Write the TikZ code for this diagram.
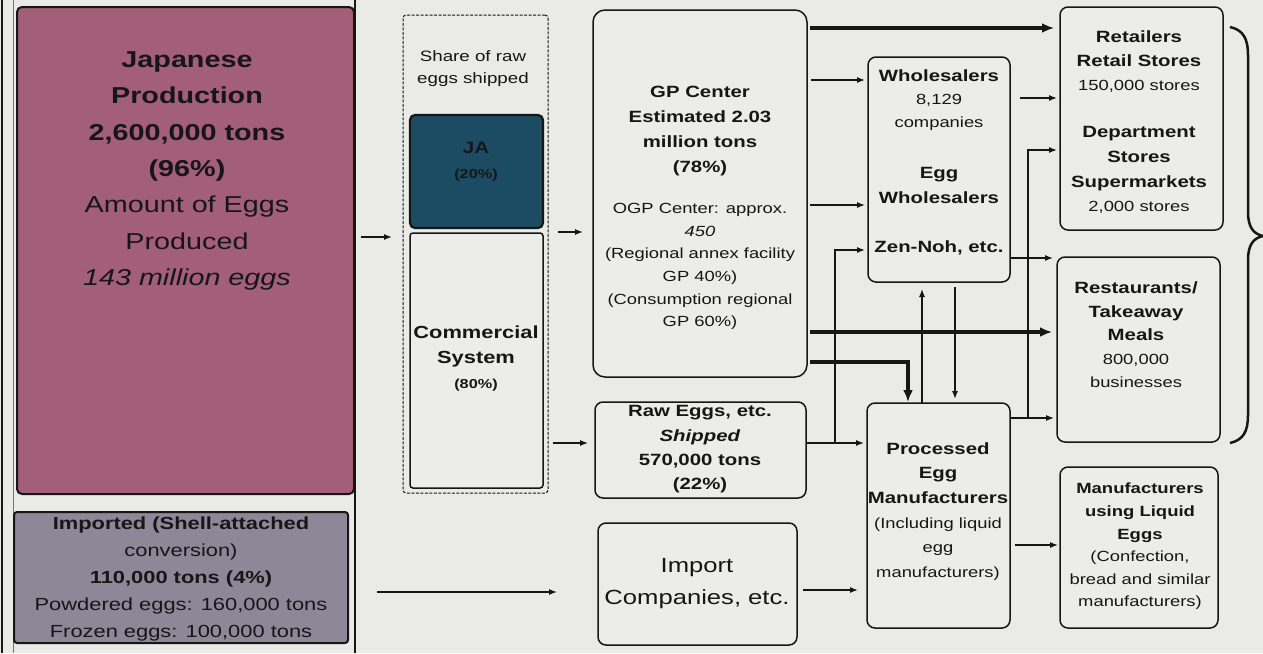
\documentclass[tikz,border=0pt]{standalone}
\usepackage{fontspec}
\setmainfont{Liberation Sans}[FakeStretch=1.25]
\usetikzlibrary{arrows.meta}
\definecolor{bg}{RGB}{234,234,232}
\definecolor{boxc}{RGB}{236,236,234}
\definecolor{pinkc}{RGB}{163,94,120}
\definecolor{grayc}{RGB}{141,135,151}
\definecolor{tealc}{RGB}{28,76,100}
\definecolor{ink}{RGB}{22,22,22}
\newcommand{\drawbox}[6]{\node[#1, minimum width={#4pt-#2pt}, minimum height={#5pt-#3pt}] (#6) at ({(#2+#4)/2},{(#3+#5)/2}) {};}
\newcommand{\bhead}[1]{{\fontsize{16.3}{24}\selectfont\bfseries #1}}
\begin{document}
\begin{tikzpicture}[x=1pt,y=-1pt,
  arr/.style={draw=ink, line width=1.2pt, -{Latex[length=8pt,width=6pt]}},
  tarr/.style={draw=ink, line width=3.2pt, -{Latex[length=12pt,width=10pt]}},
  box/.style={draw=ink, line width=1.5pt, rounded corners=8pt, fill=boxc, inner sep=0pt, outer sep=0pt},
  dashbox/.style={draw=ink, line width=1pt, dash pattern=on 3pt off 1.5pt, rounded corners=3pt, inner sep=0pt, outer sep=0pt},
  txt/.style={align=center, text=ink, inner sep=0pt},
]
\fill[bg] (0,0) rectangle (1263,653);
\useasboundingbox (0,0) rectangle (1263,653);
% table frame lines
\draw[ink, line width=1.2pt] (2,0) -- (2,653);
\draw[ink!60, line width=1pt] (13,0) -- (13,653);
\draw[ink, line width=1.2pt] (355,0) -- (355,653);
% boxes
\drawbox{box, fill=pinkc, rounded corners=5pt, line width=2pt}{17}{7}{354}{494}{pink}
\drawbox{box, fill=grayc, rounded corners=3pt, line width=2pt}{14}{512}{348}{643}{gray}
\drawbox{dashbox}{403}{15}{548}{493}{share}
\drawbox{box, fill=tealc, rounded corners=5pt, line width=2.2pt}{410}{115}{543}{228}{ja}
\drawbox{box, rounded corners=3pt}{410}{233}{543}{488}{comm}
\drawbox{box, rounded corners=12pt}{593}{10}{807}{377}{gp}
\drawbox{box}{595}{402}{806}{498}{raw}
\drawbox{box}{598}{523}{797}{645}{imp}
\drawbox{box}{868}{57}{1010}{282}{whs}
\drawbox{box}{867}{403}{1010}{628}{proc}
\drawbox{box}{1060}{7}{1223}{230}{ret}
\drawbox{box}{1057}{257}{1220}{442}{rest}
\drawbox{box}{1060}{467}{1218}{628}{mfr}
% texts
\node[txt, font=\fontsize{23}{36.3}\selectfont] (tpink) at (187,171) {\textbf{Japanese}\\\textbf{Production}\\\textbf{2,600,000 tons}\\\textbf{(96\%)}\\Amount of Eggs\\Produced\\\textit{143 million eggs}};
\node[txt, font=\fontsize{17.5}{27}\selectfont] (tgray) at (181,578.5) {\textbf{Imported (Shell-attached}\\conversion)\\\textbf{110,000 tons (4\%)}\\Powdered eggs: 160,000 tons\\Frozen eggs: 100,000 tons};
\node[txt, font=\fontsize{15}{22}\selectfont] (tshare) at (473,69) {Share of raw\\eggs shipped};
\node[txt, font=\fontsize{16.5}{25}\selectfont\bfseries] (tja) at (476,162) {JA\\{\fontsize{13}{25}\selectfont (20\%)}};
\node[txt, font=\fontsize{17.5}{25}\selectfont\bfseries] (tcomm) at (476,359) {Commercial\\System\\{\fontsize{13}{25}\selectfont (80\%)}};
\node[txt, font=\fontsize{16.3}{25}\selectfont\bfseries] (tgp1) at (700,130.5) {GP Center\\Estimated 2.03\\million tons\\(78\%)};
\node[txt, font=\fontsize{14.7}{22.6}\selectfont] (tgp2) at (700,266.5) {OGP Center: approx.\\\textit{450}\\(Regional annex facility\\GP 40\%)\\(Consumption regional\\GP 60\%)};
\node[txt, font=\fontsize{16.3}{24.3}\selectfont\bfseries] (traw) at (700,449.5) {Raw Eggs, etc.\\\textit{Shipped}\\570,000 tons\\(22\%)};
\node[txt, font=\fontsize{20.5}{32}\selectfont] (timp) at (697,584) {Import\\Companies, etc.};
\node[txt, font=\fontsize{14.7}{23}\selectfont] (tw1) at (939,100) {\bhead{Wholesalers}\\8,129\\companies};
\node[txt, font=\fontsize{16.3}{25}\selectfont\bfseries] (tw2) at (939,185.5) {Egg\\Wholesalers};
\node[txt, font=\fontsize{16.3}{25}\selectfont\bfseries] (tw3) at (939,248) {Zen-Noh, etc.};
\node[txt, font=\fontsize{14.7}{24.6}\selectfont] (tproc) at (938,511.5) {\bhead{Processed}\\\bhead{Egg}\\\bhead{Manufacturers}\\(Including liquid\\egg\\manufacturers)};
\node[txt, font=\fontsize{14.7}{24}\selectfont] (tret1) at (1139,62) {\bhead{Retailers}\\\bhead{Retail Stores}\\150,000 stores};
\node[txt, font=\fontsize{14.7}{24.7}\selectfont] (tret2) at (1139,170) {\bhead{Department}\\\bhead{Stores}\\\bhead{Supermarkets}\\2,000 stores};
\node[txt, font=\fontsize{14.7}{23.5}\selectfont] (trest) at (1136,335) {\bhead{Restaurants/}\\\bhead{Takeaway}\\\bhead{Meals}\\800,000\\businesses};
\node[txt, font=\fontsize{14.7}{22.6}\selectfont] (tmfr) at (1140,546.5) {{\fontsize{14.8}{22}\selectfont\bfseries Manufacturers}\\{\fontsize{14.8}{22}\selectfont\bfseries using Liquid}\\{\fontsize{14.8}{22}\selectfont\bfseries Eggs}\\(Confection,\\bread and similar\\manufacturers)};
% level coordinates
\coordinate (ya) at (0,237);
\coordinate (yb) at (0,232);
\coordinate (yc) at (0,443);
\coordinate (yd) at (0,592);
\coordinate (ye) at (0,590);
\coordinate (yf) at (0,28);
\coordinate (yg) at (0,80);
\coordinate (yh) at (0,205);
\coordinate (yi) at (0,332);
\coordinate (yj) at (0,362);
\coordinate (xk) at (908,0);
\coordinate (yl) at (0,250);
\coordinate (j1) at (835,443);
\coordinate (xm) at (922,0);
\coordinate (xn) at (955,0);
\coordinate (yo) at (0,98);
\coordinate (yp) at (0,258);
\coordinate (j2) at (1028,418);
\coordinate (yq) at (0,150);
\coordinate (yr) at (0,545);
% connectors
\draw[arr, shorten <=7pt, shorten >=11pt] (pink.east |- ya) -- (share.west |- ya);
\draw[arr, shorten <=10pt, shorten >=10pt] (share.east |- yb) -- (gp.west |- yb);
\draw[arr, shorten <=10pt, shorten >=7pt] (comm.east |- yc) -- (raw.west |- yc);
\draw[arr, shorten <=29pt, shorten >=41pt] (gray.east |- yd) -- (imp.west |- yd);
\draw[arr, shorten <=6pt, shorten >=9pt] (imp.east |- ye) -- (proc.west |- ye);
\draw[tarr, shorten <=3pt, shorten >=6pt] (gp.east |- yf) -- (ret.west |- yf);
\draw[arr, shorten <=4pt, shorten >=3pt] (gp.east |- yg) -- (whs.west |- yg);
\draw[arr, shorten <=3pt, shorten >=3pt] (gp.east |- yh) -- (whs.west |- yh);
\draw[tarr, shorten <=3pt, shorten >=5pt] (gp.east |- yi) -- (rest.west |- yi);
\draw[tarr, shorten <=3pt, shorten >=1pt] (gp.east |- yj) -| (proc.north -| xk);
\draw[arr, shorten >=3pt] (raw.east |- j1) -- (proc.west |- j1);
\draw[arr, shorten >=3pt] (j1) |- (whs.west |- yl);
\draw[arr, shorten >=7pt] (proc.north -| xm) -- (whs.south -| xm);
\draw[arr, shorten <=5pt, shorten >=4pt] (whs.south -| xn) -- (proc.north -| xn);
\draw[arr, shorten <=10pt, shorten >=3pt] (whs.east |- yo) -- (ret.west |- yo);
\draw[arr, shorten >=4pt] (whs.east |- yp) -- (rest.west |- yp);
\draw[arr, shorten >=3pt] (proc.east |- j2) -- (rest.west |- j2);
\draw[arr, shorten >=3pt] (j2) |- (ret.west |- yq);
\draw[arr, shorten <=5pt, shorten >=2pt] (proc.east |- yr) -- (mfr.west |- yr);
% brace
\draw[ink, line width=2.5pt] (1230,27) .. controls (1244,30) and (1248,40) .. (1248,55) -- (1248,212) .. controls (1248,228) and (1254,234) .. (1263,236) .. controls (1254,238) and (1248,244) .. (1248,260) -- (1248,415) .. controls (1248,432) and (1243,440) .. (1230,443);
\end{tikzpicture}
\end{document}
